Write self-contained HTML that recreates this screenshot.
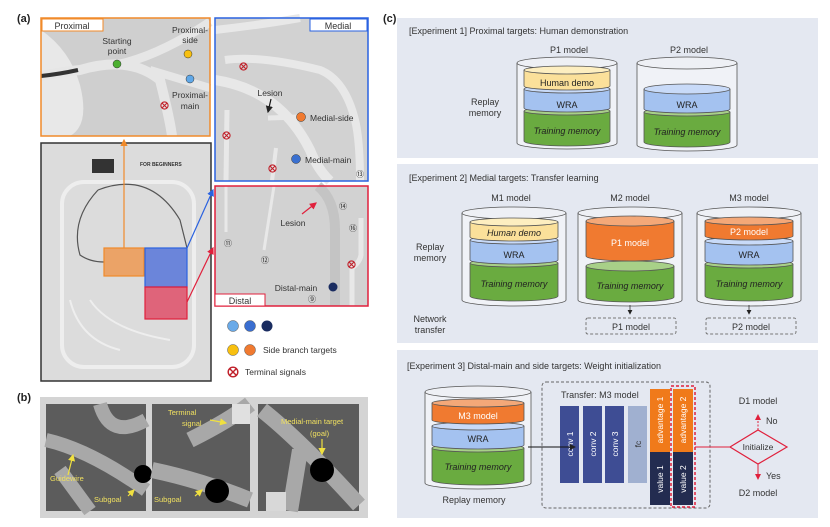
<!DOCTYPE html>
<html><head><meta charset="utf-8"><style>
body{margin:0;background:#fff}
svg{display:block;font-family:"Liberation Sans","Noto Sans CJK KR",sans-serif}
</style></head><body>
<svg width="830" height="527" viewBox="0 0 830 527" xmlns="http://www.w3.org/2000/svg">
<defs>
<marker id="ab" markerWidth="6" markerHeight="6" refX="5" refY="3" orient="auto"><path d="M0,0L6,3L0,6z" fill="#222"/></marker>
<marker id="ar" markerWidth="6" markerHeight="6" refX="5" refY="3" orient="auto"><path d="M0,0L6,3L0,6z" fill="#e0203c"/></marker>
<marker id="ao" markerWidth="6" markerHeight="6" refX="5" refY="3" orient="auto"><path d="M0,0L6,3L0,6z" fill="#f08a2a"/></marker>
<marker id="abl" markerWidth="6" markerHeight="6" refX="5" refY="3" orient="auto"><path d="M0,0L6,3L0,6z" fill="#2a62e0"/></marker>
<marker id="ay" markerWidth="6" markerHeight="6" refX="5" refY="3" orient="auto"><path d="M0,0L6,3L0,6z" fill="#f0e040"/></marker>
<symbol id="tx" viewBox="-5 -5 10 10"><circle r="4" fill="none" stroke="#c0202a" stroke-width="1.2"/><path d="M-2.8,-2.8L2.8,2.8M2.8,-2.8L-2.8,2.8" stroke="#c0202a" stroke-width="1.2"/></symbol>
</defs>
<g font-size="10" fill="#222">
<text x="17" y="22" font-weight="bold" font-size="11">(a)</text>
<text x="17" y="401" font-weight="bold" font-size="11">(b)</text>
<text x="383" y="22" font-weight="bold" font-size="11">(c)</text>
</g>

<!-- Proximal -->
<rect x="41" y="18" width="169" height="118" fill="#cfcfcf"/>
<path d="M41,30 Q70,50 80,85 Q90,125 70,136 L41,136z" fill="#e8e8e8"/>
<path d="M41,76 Q60,72 80,70 Q130,55 160,80 Q170,120 172,136" fill="none" stroke="#e6e6e6" stroke-width="10"/>
<path d="M120,64 Q160,55 210,22" fill="none" stroke="#e6e6e6" stroke-width="9"/>
<path d="M150,70 L210,88" fill="none" stroke="#e6e6e6" stroke-width="8"/>
<path d="M41,76 Q60,74 78,70" fill="none" stroke="#333" stroke-width="4"/>
<rect x="41" y="18" width="169" height="118" fill="none" stroke="#f08a2a" stroke-width="1.5"/>
<rect x="42" y="19" width="61" height="12" fill="#fff" stroke="#f08a2a"/>
<text x="72" y="29" font-size="9" text-anchor="middle" fill="#333">Proximal</text>
<circle cx="117" cy="64" r="4" fill="#4cb030" stroke="#333" stroke-width=".5"/>
<text x="117" y="44" font-size="8.5" text-anchor="middle" fill="#333">Starting</text>
<text x="117" y="54" font-size="8.5" text-anchor="middle" fill="#333">point</text>
<circle cx="188" cy="54" r="4" fill="#f8c010" stroke="#333" stroke-width=".5"/>
<text x="190" y="33" font-size="8.5" text-anchor="middle" fill="#333">Proximal-</text>
<text x="190" y="43" font-size="8.5" text-anchor="middle" fill="#333">side</text>
<circle cx="190" cy="79" r="4" fill="#60a8e8" stroke="#333" stroke-width=".5"/>
<text x="190" y="98" font-size="8.5" text-anchor="middle" fill="#333">Proximal-</text>
<text x="190" y="109" font-size="8.5" text-anchor="middle" fill="#333">main</text>
<use href="#tx" x="160" y="101" width="9" height="9"/>

<!-- Medial -->
<rect x="215" y="18" width="153" height="163" fill="#d2d2d2"/>
<path d="M215,80 Q280,90 310,150 Q318,170 330,181" fill="none" stroke="#e8e8e8" stroke-width="10"/>
<path d="M225,60 Q260,55 320,70 Q345,80 355,120 Q360,140 360,181" fill="none" stroke="#e8e8e8" stroke-width="8"/>
<path d="M215,30 Q260,25 300,18" fill="none" stroke="#e8e8e8" stroke-width="8"/>
<path d="M268,118 L300,117" stroke="#e8e8e8" stroke-width="5"/>
<path d="M227,110 L226,181" stroke="#e8e8e8" stroke-width="5"/>
<path d="M276,148 L272,181" stroke="#e8e8e8" stroke-width="4"/>
<rect x="215" y="18" width="153" height="163" fill="none" stroke="#2a62e0" stroke-width="1.5"/>
<rect x="310" y="19" width="57" height="12" fill="#fff" stroke="#2a62e0"/>
<text x="338" y="29" font-size="9" text-anchor="middle" fill="#333">Medial</text>
<text x="270" y="96" font-size="8.5" text-anchor="middle" fill="#333">Lesion</text>
<path d="M271,99 L268,112" stroke="#111" stroke-width="1.2" marker-end="url(#ab)"/>
<circle cx="301" cy="117" r="4.5" fill="#f07a30" stroke="#333" stroke-width=".5"/>
<text x="310" y="121" font-size="8.5" fill="#333">Medial-side</text>
<circle cx="296" cy="159" r="4.5" fill="#3a70d0" stroke="#333" stroke-width=".5"/>
<text x="305" y="163" font-size="8.5" fill="#333">Medial-main</text>
<use href="#tx" x="239" y="62" width="9" height="9"/>
<use href="#tx" x="222" y="131" width="9" height="9"/>
<use href="#tx" x="268" y="164" width="9" height="9"/>
<text x="360" y="177" font-size="8" text-anchor="middle" fill="#333">⑬</text>

<!-- Distal -->
<rect x="215" y="186" width="153" height="120" fill="#d2d2d2"/>
<path d="M318,186 Q335,200 335,230 L335,306" fill="none" stroke="#c4c4c4" stroke-width="10"/>
<path d="M361,218 L361,255 Q360,262 352,268 L352,306" fill="none" stroke="#e8e8e8" stroke-width="5"/>
<path d="M226,186 L226,232" stroke="#e8e8e8" stroke-width="3"/>
<path d="M274,186 L264,250" stroke="#e8e8e8" stroke-width="3"/>
<rect x="215" y="186" width="153" height="120" fill="none" stroke="#e0203c" stroke-width="1.5"/>
<rect x="215" y="294" width="50" height="12" fill="#fff" stroke="#e0203c"/>
<text x="240" y="304" font-size="9" text-anchor="middle" fill="#333">Distal</text>
<text x="293" y="226" font-size="8.5" text-anchor="middle" fill="#333">Lesion</text>
<path d="M302,214 L316,203" stroke="#e0203c" stroke-width="1.2" marker-end="url(#ar)"/>
<text x="296" y="291" font-size="8.5" text-anchor="middle" fill="#333">Distal-main</text>
<circle cx="333" cy="287" r="4.5" fill="#1a2c60"/>
<use href="#tx" x="347" y="260" width="9" height="9"/>
<g font-size="8" text-anchor="middle" fill="#333"><text x="228" y="246">⑪</text><text x="265" y="263">⑫</text><text x="312" y="302">⑨</text><text x="343" y="209">⑭</text><text x="353" y="231">⑯</text></g>

<!-- Board -->
<rect x="41" y="143" width="170" height="238" fill="#dcdcdc" stroke="#333" stroke-width="1.5"/>
<rect x="62" y="182" width="132" height="185" rx="22" fill="none" stroke="#eeeeee" stroke-width="4"/>
<path d="M98,190 Q150,170 180,220 L187,248 M98,190 Q70,220 80,255 Q90,262 104,262" fill="none" stroke="#555" stroke-width="1.2"/>
<path d="M70,300 Q80,340 120,350 M90,300 Q110,330 170,340" fill="none" stroke="#eee" stroke-width="2"/>
<rect x="92" y="159" width="22" height="14" fill="#333"/>
<text x="140" y="166" font-size="5" font-weight="bold" fill="#333">FOR BEGINNERS</text>
<rect x="104" y="248" width="40" height="28" fill="#f09040" fill-opacity=".75" stroke="#f08a2a" stroke-width="1.2"/>
<rect x="145" y="248" width="42" height="39" fill="#3a60d8" fill-opacity=".7" stroke="#2a62e0" stroke-width="1.2"/>
<rect x="145" y="287" width="42" height="32" fill="#e03050" fill-opacity=".7" stroke="#e0203c" stroke-width="1.2"/>
<path d="M124,248 L124,140" stroke="#f08a2a" stroke-width="1.2" marker-end="url(#ao)"/>
<path d="M187,248 L213,190" stroke="#2a62e0" stroke-width="1.2" marker-end="url(#abl)"/>
<path d="M187,302 L213,248" stroke="#e0203c" stroke-width="1.2" marker-end="url(#ar)"/>

<!-- legend -->
<circle cx="233" cy="326" r="5.5" fill="#6aaae8" stroke="#555" stroke-width=".5"/>
<circle cx="250" cy="326" r="5.5" fill="#3a6ed0" stroke="#555" stroke-width=".5"/>
<circle cx="267" cy="326" r="5.5" fill="#1a2c60"/>
<circle cx="233" cy="350" r="5.5" fill="#f8c010" stroke="#555" stroke-width=".5"/>
<circle cx="250" cy="350" r="5.5" fill="#f07a30" stroke="#555" stroke-width=".5"/>
<text x="263" y="353" font-size="8.5" fill="#333">Side branch targets</text>
<use href="#tx" x="227" y="366" width="12" height="12"/>
<text x="245" y="375" font-size="8.5" fill="#333">Terminal signals</text>

<!-- (b) -->
<rect x="40" y="397" width="328" height="121" fill="#d4d4d4"/>
<rect x="46" y="404" width="100" height="107" fill="#5c5c5c"/>
<path d="M46,440 Q90,450 146,490 M100,404 Q110,440 146,420 M60,470 L90,511" stroke="#a8a8a8" stroke-width="14" fill="none"/>
<circle cx="143" cy="474" r="9" fill="#000"/>
<rect x="152" y="404" width="98" height="107" fill="#5c5c5c"/>
<path d="M152,470 Q200,480 250,500 M190,440 Q230,420 250,404" stroke="#a8a8a8" stroke-width="16" fill="none"/>
<rect x="232" y="404" width="18" height="20" fill="#e0e0e0"/>
<circle cx="217" cy="491" r="12" fill="#000"/>
<rect x="258" y="404" width="101" height="107" fill="#5c5c5c"/>
<path d="M262,410 Q300,440 359,505 M300,450 L290,511" stroke="#a8a8a8" stroke-width="16" fill="none"/>
<rect x="266" y="492" width="20" height="19" fill="#d8d8d8"/>
<circle cx="322" cy="470" r="12" fill="#000"/>
<g font-size="7.5" fill="#f0e060">
<text x="50" y="481">Guidewire</text><text x="94" y="502">Subgoal</text>
<text x="154" y="502">Subgoal</text><text x="168" y="415">Terminal</text><text x="182" y="426">signal</text>
<text x="281" y="424">Medial-main target</text><text x="310" y="436">(goal)</text>
</g>
<g stroke="#f0e040" stroke-width="1.2">
<path d="M68,475 L73,455" marker-end="url(#ay)"/><path d="M128,496 L134,490" marker-end="url(#ay)"/>
<path d="M195,496 L202,490" marker-end="url(#ay)"/><path d="M210,420 L226,423" marker-end="url(#ay)"/>
<path d="M322,439 L322,454" marker-end="url(#ay)"/>
</g>

<!-- (c) boxes -->
<rect x="397" y="18" width="421" height="140" fill="#e4e8f1"/>
<rect x="397" y="164" width="421" height="179" fill="#e4e8f1"/>
<rect x="397" y="350" width="421" height="168" fill="#e4e8f1"/>
<g font-size="9" fill="#333">
<text x="409" y="34">[Experiment 1] Proximal targets: Human demonstration</text>
<text x="409" y="181">[Experiment 2] Medial targets: Transfer learning</text>
<text x="407" y="369">[Experiment 3] Distal-main and side targets: Weight initialization</text>
</g>
<g font-size="9" fill="#333" text-anchor="middle">
<text x="569" y="53">P1 model</text><text x="689" y="53">P2 model</text>
<text x="485" y="105">Replay</text><text x="485" y="116">memory</text>
<text x="511" y="201">M1 model</text><text x="630" y="201">M2 model</text><text x="749" y="201">M3 model</text>
<text x="430" y="250">Replay</text><text x="430" y="261">memory</text>
<text x="430" y="322">Network</text><text x="430" y="333">transfer</text>
<text x="474" y="503">Replay memory</text>
</g>

<!-- cylinder helper: drawn manually -->
<g id="cyls" stroke="#555" stroke-width=".8">
<!-- Exp1 P1 -->
<path d="M517,63 L517,143 A50,6 0 0 0 617,143 L617,63" fill="#f0f2f7"/>
<ellipse cx="567" cy="63" rx="50" ry="6" fill="#eef0f5"/>
<path d="M524,111 L524,141 A43,5 0 0 0 610,141 L610,111" fill="#6aab40"/><ellipse cx="567" cy="111" rx="43" ry="4" fill="#a8d088"/>
<path d="M524,89 L524,108 A43,4 0 0 0 610,108 L610,89" fill="#a4c2f0"/><ellipse cx="567" cy="89" rx="43" ry="4" fill="#c8daf8"/>
<path d="M524,70 L524,86 A43,4 0 0 0 610,86 L610,70" fill="#fbe09a"/><ellipse cx="567" cy="70" rx="43" ry="4" fill="#fdeec0"/>
<!-- Exp1 P2 -->
<path d="M637,63 L637,145 A50,6 0 0 0 737,145 L737,63" fill="#f0f2f7"/>
<ellipse cx="687" cy="63" rx="50" ry="6" fill="#eef0f5"/>
<path d="M644,112 L644,142 A43,5 0 0 0 730,142 L730,112" fill="#6aab40"/><ellipse cx="687" cy="112" rx="43" ry="4" fill="#a8d088"/>
<path d="M644,89 L644,109 A43,4 0 0 0 730,109 L730,89" fill="#a4c2f0"/><ellipse cx="687" cy="89" rx="43" ry="5" fill="#c8daf8"/>
<!-- Exp2 M1 -->
<path d="M462,213 L462,300 A52,6 0 0 0 566,300 L566,213" fill="#f0f2f7"/>
<ellipse cx="514" cy="213" rx="52" ry="6" fill="#eef0f5"/>
<path d="M470,263 L470,296 A44,5 0 0 0 558,296 L558,263" fill="#6aab40"/><ellipse cx="514" cy="263" rx="44" ry="4" fill="#a8d088"/>
<path d="M470,240 L470,260 A44,4 0 0 0 558,260 L558,240" fill="#a4c2f0"/><ellipse cx="514" cy="240" rx="44" ry="4" fill="#c8daf8"/>
<path d="M470,222 L470,237 A44,4 0 0 0 558,237 L558,222" fill="#fbe09a"/><ellipse cx="514" cy="222" rx="44" ry="4" fill="#fdeec0"/>
<!-- M2 -->
<path d="M578,213 L578,300 A52,6 0 0 0 682,300 L682,213" fill="#f0f2f7"/>
<ellipse cx="630" cy="213" rx="52" ry="6" fill="#eef0f5"/>
<path d="M586,266 L586,297 A44,5 0 0 0 674,297 L674,266" fill="#6aab40"/><ellipse cx="630" cy="266" rx="44" ry="5" fill="#a8d088"/>
<path d="M586,221 L586,256 A44,5 0 0 0 674,256 L674,221" fill="#f07a30"/><ellipse cx="630" cy="221" rx="44" ry="5" fill="#f4a878"/>
<!-- M3 -->
<path d="M697,213 L697,300 A52,6 0 0 0 801,300 L801,213" fill="#f0f2f7"/>
<ellipse cx="749" cy="213" rx="52" ry="6" fill="#eef0f5"/>
<path d="M705,264 L705,296 A44,5 0 0 0 793,296 L793,264" fill="#6aab40"/><ellipse cx="749" cy="264" rx="44" ry="4" fill="#a8d088"/>
<path d="M705,241 L705,261 A44,4 0 0 0 793,261 L793,241" fill="#a4c2f0"/><ellipse cx="749" cy="241" rx="44" ry="4" fill="#c8daf8"/>
<path d="M705,221 L705,236 A44,4 0 0 0 793,236 L793,221" fill="#f07a30"/><ellipse cx="749" cy="221" rx="44" ry="4" fill="#f4a878"/>
<!-- Exp3 -->
<path d="M425,392 L425,483 A53,6 0 0 0 531,483 L531,392" fill="#f0f2f7"/>
<ellipse cx="478" cy="392" rx="53" ry="6" fill="#eef0f5"/>
<path d="M432,448 L432,480 A46,5 0 0 0 524,480 L524,448" fill="#6aab40"/><ellipse cx="478" cy="448" rx="46" ry="4" fill="#a8d088"/>
<path d="M432,426 L432,445 A46,4 0 0 0 524,445 L524,426" fill="#a4c2f0"/><ellipse cx="478" cy="426" rx="46" ry="4" fill="#c8daf8"/>
<path d="M432,403 L432,420 A46,4 0 0 0 524,420 L524,403" fill="#f07a30"/><ellipse cx="478" cy="403" rx="46" ry="4" fill="#f4a878"/>
</g>
<g font-size="9" text-anchor="middle" fill="#222">
<text x="567" y="86">Human demo</text><text x="567" y="108">WRA</text><text x="567" y="134" font-style="italic">Training memory</text>
<text x="687" y="108">WRA</text><text x="687" y="135" font-style="italic">Training memory</text>
<text x="514" y="236" font-style="italic">Human demo</text><text x="514" y="258">WRA</text><text x="514" y="287" font-style="italic">Training memory</text>
<text x="630" y="246" fill="#fff">P1 model</text><text x="630" y="289" font-style="italic">Training memory</text>
<text x="749" y="235" fill="#fff">P2 model</text><text x="749" y="258">WRA</text><text x="749" y="287" font-style="italic">Training memory</text>
<text x="478" y="419" fill="#fff">M3 model</text><text x="478" y="442">WRA</text><text x="478" y="470" font-style="italic">Training memory</text>
</g>
<g stroke="#333" stroke-width=".8">
<path d="M630,305 L630,314" marker-end="url(#ab)"/><path d="M749,305 L749,314" marker-end="url(#ab)"/>
</g>
<rect x="586" y="318" width="90" height="16" rx="2" fill="none" stroke="#777" stroke-dasharray="3,2"/>
<rect x="706" y="318" width="90" height="16" rx="2" fill="none" stroke="#777" stroke-dasharray="3,2"/>
<text x="631" y="330" font-size="9" text-anchor="middle" fill="#333">P1 model</text>
<text x="751" y="330" font-size="9" text-anchor="middle" fill="#333">P2 model</text>

<!-- network -->
<rect x="542" y="382" width="168" height="126" rx="4" fill="none" stroke="#666" stroke-dasharray="3,2"/>
<text x="561" y="398" font-size="9" fill="#333">Transfer: M3 model</text>
<rect x="560" y="406" width="19" height="77" fill="#3e4d94"/>
<rect x="583" y="406" width="19" height="77" fill="#3e4d94"/>
<rect x="605" y="406" width="19" height="77" fill="#3e4d94"/>
<rect x="628" y="406" width="19" height="77" fill="#a0b0d0"/>
<rect x="650" y="389" width="20" height="63" fill="#f07a1a"/>
<rect x="650" y="452" width="20" height="53" fill="#232c50"/>
<rect x="673" y="389" width="20" height="63" fill="#f07a1a"/>
<rect x="673" y="452" width="20" height="53" fill="#232c50"/>
<rect x="671" y="386" width="24" height="121" fill="none" stroke="#e0203c" stroke-width="1.5" stroke-dasharray="3,2"/>
<g font-size="8.5" fill="#fff" text-anchor="middle">
<text transform="translate(573,444) rotate(-90)">conv 1</text>
<text transform="translate(596,444) rotate(-90)">conv 2</text>
<text transform="translate(618,444) rotate(-90)">conv 3</text>
<text transform="translate(641,444) rotate(-90)" fill="#333">fc</text>
<text transform="translate(663,420) rotate(-90)">advantage 1</text>
<text transform="translate(686,420) rotate(-90)">advantage 2</text>
<text transform="translate(663,479) rotate(-90)">value 1</text>
<text transform="translate(686,479) rotate(-90)">value 2</text>
</g>
<path d="M528,447 L575,447" stroke="#111" stroke-width="1" marker-end="url(#ab)"/>
<path d="M695,447 L730,447" stroke="#e0203c" stroke-width="1"/>
<path d="M730,447 L758,430 L787,447 L758,464z" fill="none" stroke="#e0203c" stroke-width="1.2"/>
<text x="758" y="450" font-size="8.5" text-anchor="middle" fill="#333">Initialize</text>
<path d="M758,430 L758,415" stroke="#e0203c" stroke-dasharray="2,1.5" marker-end="url(#ar)"/>
<path d="M758,464 L758,479" stroke="#e0203c" marker-end="url(#ar)"/>
<g font-size="9" fill="#333">
<text x="758" y="404" text-anchor="middle">D1 model</text><text x="766" y="424">No</text>
<text x="766" y="479">Yes</text><text x="758" y="496" text-anchor="middle">D2 model</text>
</g>
</svg>
</body></html>
